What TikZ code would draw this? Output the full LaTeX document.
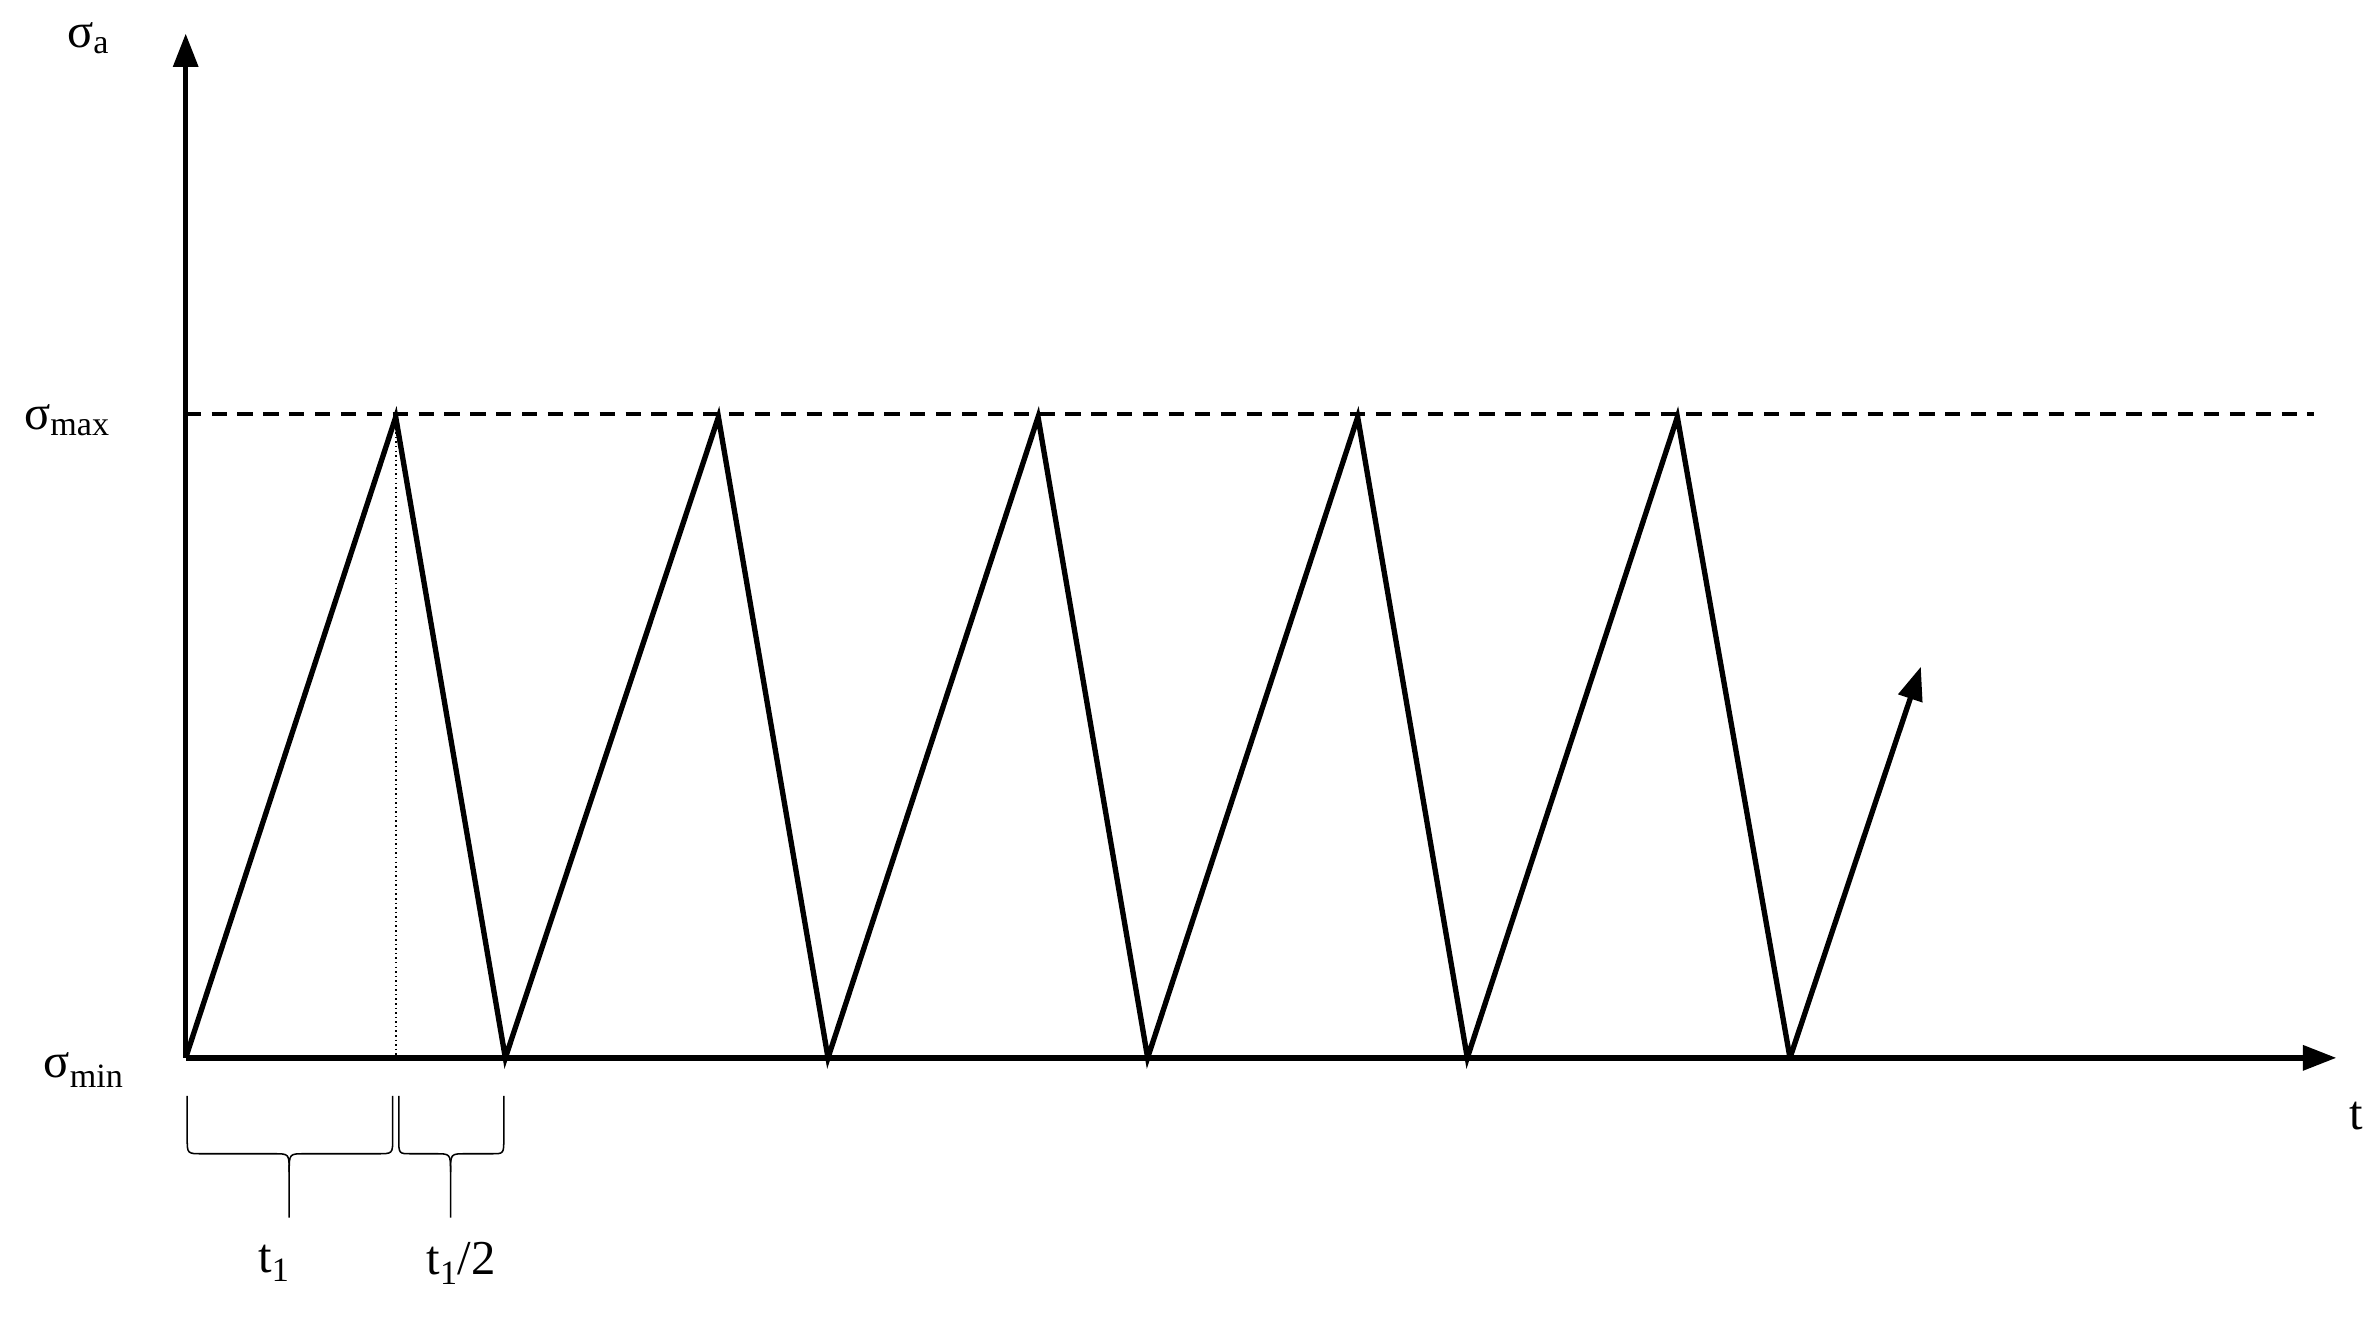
\documentclass[tikz,border=0pt]{standalone}
\usepackage{fontspec}
\setmainfont{Liberation Serif}
\usetikzlibrary{arrows.meta}
\begin{document}
\begin{tikzpicture}[x=1pt,y=-1pt,
  axis/.style={line width=3.5pt,-{Stealth[length=22pt,width=16pt,inset=0pt]}},
  wave/.style={line width=3.5pt,line join=miter},
  lbl/.style={font=\fontsize{32}{38}\selectfont,inner sep=0pt},
  brc/.style={line width=1pt}]
\useasboundingbox (0,0) rectangle (1563,868);
\coordinate (o) at (122,695);
\coordinate (ytop) at (122,22);
\coordinate (xend) at (1535,695);
\draw[dashed,line width=2pt,dash pattern=on 10pt off 7pt] (122,272) -- (1520,272);
\draw[dotted,line width=1pt] (260,272) -- (260,695);
\draw[wave] (122,695) -- (260,274) -- (332,695) -- (472,274) -- (544,695) -- (682,274) -- (754,695) -- (892,274) -- (964,695) -- (1102,274) -- (1176,695);
\draw[axis] (1176,695) -- (1262,438);
\draw[axis] (o) -- (ytop);
\draw[axis] (o) -- (xend);
% braces
\draw[brc] (123,720) -- (123,748) .. controls (123,758) .. (133,758) -- (180,758) .. controls (190,758) .. (190,770) -- (190,800);
\draw[brc] (258,720) -- (258,748) .. controls (258,758) .. (248,758) -- (200,758) .. controls (190,758) .. (190,770);
\draw[brc] (262,720) -- (262,748) .. controls (262,758) .. (270,758) -- (286,758) .. controls (296,758) .. (296,770) -- (296,800);
\draw[brc] (331,720) -- (331,748) .. controls (331,758) .. (323,758) -- (306,758) .. controls (296,758) .. (296,770);
\node[lbl] (sa) at (58,25) {σ\textsubscript{a}};
\node[lbl] (smax) at (44,276) {σ\textsubscript{max}};
\node[lbl] (smin) at (55,703) {σ\textsubscript{min}};
\node[lbl] (t) at (1548,733) {t};
\node[lbl] (t1) at (180,830) {t\textsubscript{1}};
\node[lbl] (t2) at (303,830) {t\textsubscript{1}/2};
\end{tikzpicture}
\end{document}
